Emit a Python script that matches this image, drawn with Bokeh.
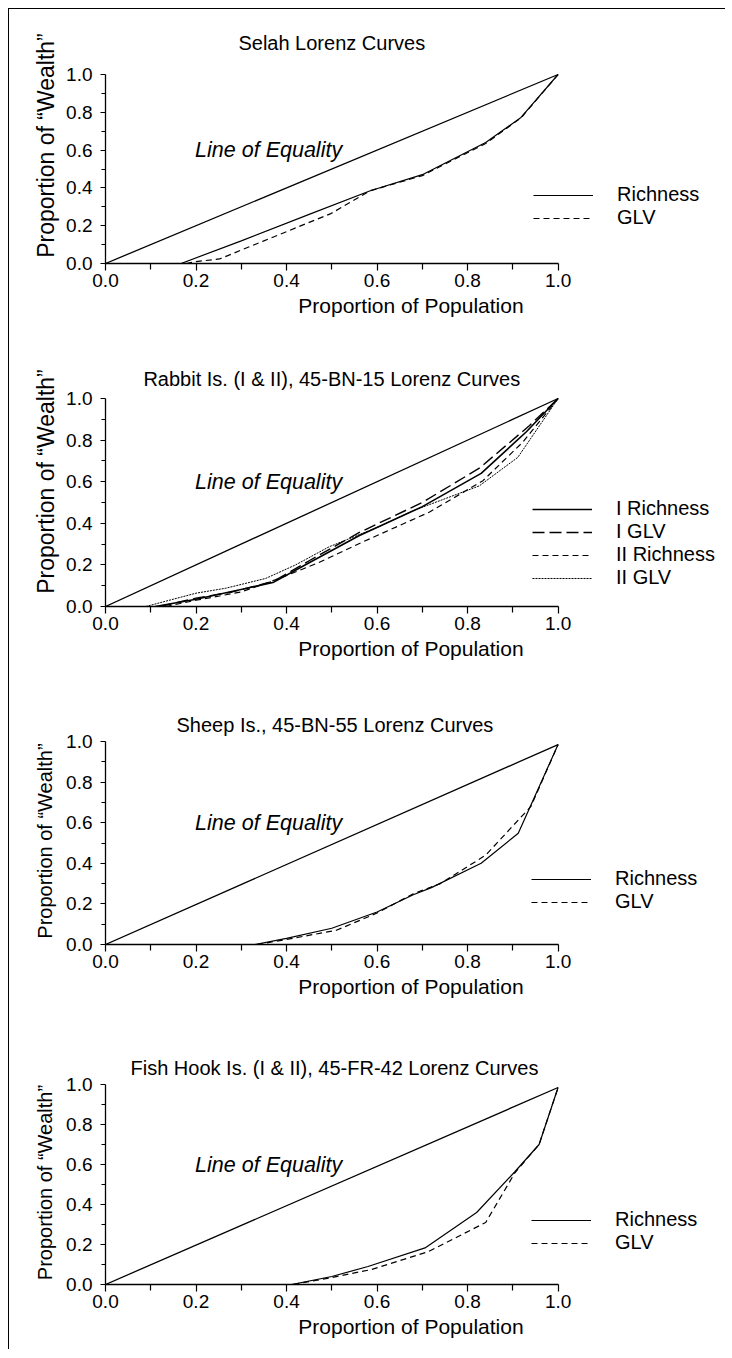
from bokeh.plotting import figure
from bokeh.models import Range1d, FixedTicker, Legend, LegendItem, Label, NumeralTickFormatter, LinearAxis
from bokeh.layouts import column
from bokeh.embed import file_html
from bokeh.resources import INLINE

FONT = "Liberation Sans"

# ---------------- data ----------------
tick_values = [0.0, 0.2, 0.4, 0.6, 0.8, 1.0]
minor_values = [0.1, 0.3, 0.5, 0.7, 0.9]

titles = [
    "Selah Lorenz Curves",
    "Rabbit Is. (I & II), 45-BN-15 Lorenz Curves",
    "Sheep Is., 45-BN-55 Lorenz Curves",
    "Fish Hook Is. (I & II), 45-FR-42 Lorenz Curves",
]

# Selah
selah_eq_x = [0.0, 1.0]
selah_eq_y = [0.0, 1.0]
selah_rich_x = [0.167, 0.30, 0.45, 0.585, 0.70, 0.84, 0.918, 1.0]
selah_rich_y = [0.0, 0.12, 0.26, 0.385, 0.47, 0.64, 0.773, 1.0]
selah_glv_x = [0.178, 0.20, 0.252, 0.35, 0.498, 0.585, 0.70, 0.84, 0.918, 1.0]
selah_glv_y = [0.0, 0.01, 0.024, 0.12, 0.264, 0.385, 0.465, 0.635, 0.77, 1.0]

# Rabbit Is.
rabbit_eq_x = [0.0, 1.0]
rabbit_eq_y = [0.0, 1.0]
rabbit_i_rich_x = [0.11, 0.20, 0.37, 0.45, 0.56, 0.70, 0.83, 0.93, 1.0]
rabbit_i_rich_y = [0.0, 0.035, 0.115, 0.21, 0.34, 0.48, 0.64, 0.84, 1.0]
rabbit_i_glv_x = [0.12, 0.20, 0.28, 0.37, 0.45, 0.56, 0.70, 0.826, 0.937, 1.0]
rabbit_i_glv_y = [0.0, 0.04, 0.07, 0.12, 0.22, 0.355, 0.50, 0.665, 0.87, 1.0]
rabbit_ii_rich_x = [0.133, 0.20, 0.30, 0.384, 0.47, 0.568, 0.716, 0.834, 0.922, 1.0]
rabbit_ii_rich_y = [0.0, 0.03, 0.07, 0.135, 0.21, 0.31, 0.454, 0.605, 0.79, 1.0]
rabbit_ii_glv_x = [0.089, 0.20, 0.266, 0.354, 0.42, 0.494, 0.60, 0.679, 0.826, 0.911, 1.0]
rabbit_ii_glv_y = [0.0, 0.064, 0.088, 0.135, 0.20, 0.287, 0.38, 0.46, 0.58, 0.717, 1.0]

# Sheep Is.
sheep_eq_x = [0.0, 1.0]
sheep_eq_y = [0.0, 0.985]
sheep_rich_x = [0.33, 0.40, 0.50, 0.60, 0.68, 0.72, 0.83, 0.912, 1.0]
sheep_rich_y = [0.0, 0.03, 0.08, 0.16, 0.245, 0.28, 0.40, 0.548, 0.985]
sheep_glv_x = [0.335, 0.40, 0.51, 0.60, 0.68, 0.74, 0.84, 0.94, 1.0]
sheep_glv_y = [0.0, 0.025, 0.07, 0.155, 0.25, 0.30, 0.44, 0.68, 0.985]

# Fish Hook Is.
fish_eq_x = [0.0, 1.0]
fish_eq_y = [0.0, 0.985]
fish_rich_x = [0.411, 0.50, 0.58, 0.706, 0.82, 0.905, 0.958, 1.0]
fish_rich_y = [0.0, 0.04, 0.09, 0.183, 0.36, 0.565, 0.70, 0.985]
fish_glv_x = [0.415, 0.50, 0.588, 0.714, 0.84, 0.905, 0.958, 1.0]
fish_glv_y = [0.0, 0.035, 0.075, 0.165, 0.31, 0.56, 0.70, 0.985]

# ---------------- helpers ----------------
XMAX = 1.35
FRAME_W = 614


def make_panel(title, height, left, top, bottom, ppu, ylab_size, ylab_standoff,
               title_y=None, title_offset=0, title_standoff=3):
    frame_h = height - top - bottom
    ytop = frame_h / ppu
    p = figure(width=716, height=height, output_backend="svg", toolbar_location=None,
               x_range=Range1d(0, XMAX), y_range=Range1d(0, ytop),
               min_border_left=left, min_border_right=716 - left - FRAME_W,
               min_border_top=top, min_border_bottom=bottom)
    p.outline_line_color = None
    p.background_fill_color = "white"
    p.border_fill_color = "white"
    p.xgrid.visible = False
    p.ygrid.visible = False
    if title_y is not None:
        p.add_layout(Label(x=0.5, y=title_y, text=title, text_font=FONT,
                           text_font_size="20px", text_align="center",
                           text_baseline="middle", text_color="black"))
    else:
        p.title.text = title
        p.title.align = "left"
        p.title.offset = title_offset
        p.title.standoff = title_standoff
        p.title.text_font = FONT
        p.title.text_font_size = "20px"
        p.title.text_font_style = "normal"
        p.title.text_color = "black"

    ticker = FixedTicker(ticks=tick_values, minor_ticks=minor_values)
    for ax, is_x in ((p.xaxis[0], True), (p.yaxis[0], False)):
        ax.ticker = ticker
        ax.formatter = NumeralTickFormatter(format="0.0")
        ax.bounds = (0, 1)
        ax.axis_line_color = "black"
        ax.axis_line_width = 1.3
        ax.major_tick_line_color = "black"
        ax.minor_tick_line_color = "black"
        ax.major_tick_line_width = 1.2
        ax.minor_tick_line_width = 1.2
        ax.major_tick_in = 0
        ax.minor_tick_in = 0
        ax.major_label_text_font = FONT
        ax.major_label_text_font_size = "19px"
        ax.major_label_text_color = "black"
        if is_x:
            ax.major_tick_out = 7
            ax.minor_tick_out = 6
            ax.major_label_standoff = 3
            ax.axis_label_standoff = 4
            ax.axis_label = "Proportion of Population"
            ax.axis_label_text_font = FONT
            ax.axis_label_text_font_size = "21px"
            ax.axis_label_text_font_style = "normal"
            ax.axis_label_text_color = "black"
        else:
            ax.major_tick_out = 5
            ax.minor_tick_out = 4
            ax.major_label_standoff = 8
            ax.axis_label = None

    # label-only axis for the y title
    lab_ax = LinearAxis(ticker=FixedTicker(ticks=[]),
                        axis_line_color=None, major_tick_line_color=None,
                        minor_tick_line_color=None, major_tick_out=0, minor_tick_out=0,
                        major_label_standoff=0,
                        axis_label="Proportion of \u201cWealth\u201d",
                        axis_label_text_font=FONT, axis_label_text_font_size=ylab_size,
                        axis_label_text_font_style="normal", axis_label_text_color="black",
                        axis_label_standoff=ylab_standoff)
    p.add_layout(lab_ax, "left")
    return p


def add_eq(p, xs, ys):
    p.line(xs, ys, line_color="black", line_width=1.3)
    p.add_layout(Label(x=0.198, y=0.6, text="Line of Equality", text_font=FONT,
                       text_font_size="21.5px", text_font_style="italic",
                       text_baseline="middle", text_align="left", text_color="black"))


def add_legend(p, items, loc):
    leg = Legend(items=[LegendItem(label=l, renderers=[r]) for l, r in items],
                 location=loc, label_text_font=FONT, label_text_font_size="20px",
                 label_text_color="black", glyph_width=60, glyph_height=20,
                 label_height=20, label_standoff=24, spacing=0,
                 padding=0, margin=0, border_line_color=None,
                 background_fill_alpha=0)
    p.add_layout(leg)


# ---------------- panels ----------------
p1 = make_panel(titles[0], 327, 96, 18, 73, 189, "23px", 5, title_y=1.169)
add_eq(p1, selah_eq_x, selah_eq_y)
r1a = p1.line(selah_rich_x, selah_rich_y, line_color="black", line_width=1.2)
r1b = p1.line(selah_glv_x, selah_glv_y, line_color="black", line_width=1.2, line_dash="6 4")
add_legend(p1, [("Richness", r1a), ("GLV", r1b)], (428, 34))

p2 = make_panel(titles[1], 340, 96, 20, 70, 208, "23px", 5, title_y=1.096)
add_eq(p2, rabbit_eq_x, rabbit_eq_y)
r2a = p2.line(rabbit_i_rich_x, rabbit_i_rich_y, line_color="black", line_width=1.6)
r2b = p2.line(rabbit_i_glv_x, rabbit_i_glv_y, line_color="black", line_width=1.4, line_dash="12 5")
r2c = p2.line(rabbit_ii_rich_x, rabbit_ii_rich_y, line_color="black", line_width=1.2, line_dash="6 4")
r2d = p2.line(rabbit_ii_glv_x, rabbit_ii_glv_y, line_color="black", line_width=1.0, line_dash="2 1")
add_legend(p2, [("I Richness", r2a), ("I GLV", r2b), ("II Richness", r2c), ("II GLV", r2d)], (427, 17))

p3 = make_panel(titles[2], 340, 93, 61, 72, 203, "20px", 8, title_offset=71, title_standoff=3)
add_eq(p3, sheep_eq_x, sheep_eq_y)
r3a = p3.line(sheep_rich_x, sheep_rich_y, line_color="black", line_width=1.2)
r3b = p3.line(sheep_glv_x, sheep_glv_y, line_color="black", line_width=1.2, line_dash="6 4")
add_legend(p3, [("Richness", r3a), ("GLV", r3b)], (426, 31))

p4 = make_panel(titles[3], 333, 93, 64, 65, 200, "20px", 8, title_offset=25, title_standoff=3)
add_eq(p4, fish_eq_x, fish_eq_y)
r4a = p4.line(fish_rich_x, fish_rich_y, line_color="black", line_width=1.2)
r4b = p4.line(fish_glv_x, fish_glv_y, line_color="black", line_width=1.2, line_dash="6 4")
add_legend(p4, [("Richness", r4a), ("GLV", r4b)], (426, 30))

layout = column(p1, p2, p3, p4, spacing=0,
                styles={"margin-left": "8px", "margin-top": "8px",
                        "border-left": "1px solid black", "border-top": "1px solid black"})

open("out.html", "w").write(file_html(layout, INLINE))
